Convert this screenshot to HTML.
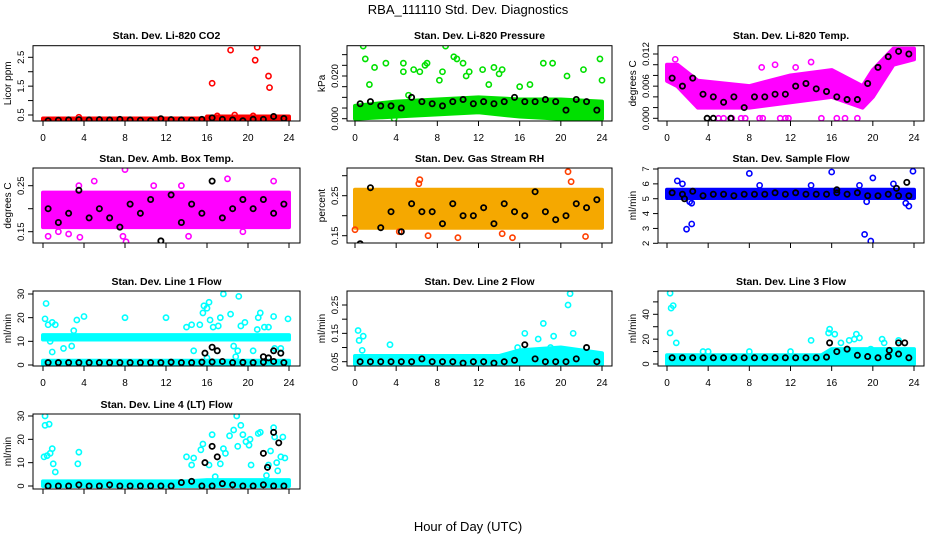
<!DOCTYPE html>
<html><head><meta charset="utf-8"><style>
html,body{margin:0;padding:0;background:#fff}
svg{display:block;font-family:"Liberation Sans",sans-serif}
</style></head><body>
<svg id="chart" width="936" height="540" viewBox="0 0 936 540">
<text x="468" y="14" text-anchor="middle" font-size="13">RBA_111110  Std. Dev. Diagnostics</text>
<text x="468" y="531" text-anchor="middle" font-size="13">Hour of Day (UTC)</text>
</svg>
<script>
// ---- shared data ----
const xTicks = [0,4,8,12,16,20,24];
const hourly = [0.5,1.5,2.5,3.5,4.5,5.5,6.5,7.5,8.5,9.5,10.5,11.5,12.5,13.5,14.5,15.5,16.5,17.5,18.5,19.5,20.5,21.5,22.5,23.5];

// CO2
const co2BandH = [0,16,16,24];
const co2BandLo = [0.29,0.29,0.29,0.29];
const co2BandHi = [0.38,0.38,0.45,0.45];
const co2Pts = [[16.5,1.6],[18.3,2.75],[20.7,2.4],[20.9,2.85],[22,1.85],[22.1,1.45],[18.7,0.5],[17,0.47],[20.5,0.47],[3.5,0.42]];
const co2Black = [0.3,0.32,0.33,0.34,0.33,0.34,0.33,0.35,0.33,0.32,0.3,0.37,0.34,0.33,0.32,0.35,0.4,0.35,0.33,0.3,0.35,0.35,0.45,0.38];

// Pressure
const prBandH = [0,4,8,12,16,20,24];
const prBandLo = [0,0.001,0.002,0.003,0.001,0,0];
const prBandHi = [0.006,0.008,0.009,0.010,0.009,0.009,0.008];
const prPts = [[0.8,0.034],[1,0.028],[1.4,0.016],[1.9,0.024],[3,0.026],[4.7,0.026],[4.7,0.022],[5.7,0.023],[6.3,0.022],[6.8,0.025],[7,0.026],[8.2,0.018],[8.5,0.022],[8.8,0.034],[9.6,0.029],[9.9,0.028],[10.5,0.026],[10.8,0.020],[11.1,0.022],[12.4,0.023],[13,0.016],[13.5,0.024],[14,0.021],[14.3,0.023],[16,0.015],[17,0.016],[18.3,0.026],[19.2,0.026],[20.6,0.020],[22.2,0.023],[23.8,0.028],[24,0.018],[5.2,0.011],[3.8,0]];
const prBlack = [0.007,0.008,0.006,0.006,0.005,0.010,0.008,0.007,0.006,0.008,0.009,0.007,0.008,0.007,0.008,0.010,0.008,0.008,0.009,0.008,0.004,0.009,0.008,0.004];

// Li-820 temp
const ltBandH = [0,1,3,8,12,16,19,20,22,24];
const ltBandLo = [0.007,0.006,0.002,0.002,0.003,0.004,0.002,0.004,0.010,0.011];
const ltBandHi = [0.010,0.010,0.007,0.006,0.008,0.009,0.006,0.009,0.013,0.013];
const ltPts = [[5,0],[5.5,0],[6.3,0],[7.2,0],[7.6,0],[9,0],[9.3,0],[11,0],[11.5,0],[11.8,0],[15,0],[16.5,0],[17.3,0],[18.5,0],[9.2,0.0095],[10.5,0.01],[14,0.0105],[12.5,0.0095],[0.8,0.011]];
const ltBlack = [0.0075,0.006,0.0075,0.0045,0.004,0.003,0.004,0.002,0.004,0.004,0.0045,0.0045,0.006,0.0065,0.0055,0.005,0.004,0.0035,0.0035,0.0065,0.0095,0.0115,0.0125,0.012];
const ltBlackExtra = [[3.9,0],[4.5,0],[6.2,0]];

// Amb box temp
const abBandH = [0,24];
const abBandLo = [0.16,0.16];
const abBandHi = [0.235,0.235];
const abPts = [[8,0.285],[8.1,0.128],[18,0.265],[22.5,0.26],[5,0.26],[0.5,0.14],[3.6,0.138],[7.8,0.14],[14.2,0.14],[19.5,0.15],[3.5,0.25],[13.5,0.25],[10.8,0.25],[2.5,0.145],[1.5,0.15]];
const abBlack = [0.20,0.17,0.19,0.24,0.18,0.20,0.18,0.16,0.21,0.19,0.22,0.13,0.23,0.17,0.21,0.19,0.26,0.18,0.20,0.22,0.20,0.22,0.19,0.21];

// RH
const rhBandH = [0,24];
const rhBandLo = [0.17,0.17];
const rhBandHi = [0.265,0.265];
const rhPts = [[20.7,0.31],[21,0.285],[6.2,0.28],[6.3,0.29],[0,0.165],[7.1,0.15],[10,0.145],[15.3,0.145],[22.4,0.148],[4.3,0.16],[14.3,0.155]];
const rhBlack = [0.13,0.27,0.17,0.21,0.16,0.23,0.21,0.21,0.18,0.23,0.20,0.20,0.22,0.18,0.23,0.21,0.20,0.26,0.21,0.19,0.20,0.23,0.22,0.24];

// Sample flow
const sfBandH = [0,24];
const sfBandLo = [5.05,5.05];
const sfBandHi = [5.6,5.6];
const sfPts = [[1,6.2],[1.5,6.0],[1.9,2.95],[2.4,3.3],[2.2,4.8],[2.4,4.7],[8,6.7],[16,6.8],[19.2,2.6],[19.8,2.15],[20,6.4],[23.9,6.85],[23.2,4.7],[23.5,4.5],[19.4,4.8],[9,5.9],[14,5.9],[18.7,5.9],[22,6.0]];
const sfBlack = [5.4,5.3,5.5,5.2,5.3,5.3,5.2,5.3,5.3,5.3,5.4,5.3,5.4,5.3,5.3,5.3,5.4,5.3,5.4,5.2,5.2,5.3,5.2,5.2];
const sfBlackExtra = [[23.3,6.1],[1.7,5.0],[16.5,5.6],[22.3,5.7]];

// Line 1
const l1BandH = [0,24];
const l1BandLo = [10.8,10.8];
const l1BandHi = [12.6,12.6];
const l1Pts = [[0.3,26],[0.2,19.5],[0.5,17],[0.9,18],[1.2,17],[0.7,10],[0.9,5.5],[2,7],[2.8,8],[3,14.5],[3.3,19],[4,20.5],[8,20],[12,20],[14,16],[14.5,17],[15.3,17],[15.6,22],[15.7,25],[16,24],[16.2,26.5],[16.3,19],[16.6,16],[17.1,16.5],[17.3,20],[17.6,30],[18.3,21.5],[18.6,8],[19,6],[19.1,29],[19.3,16.5],[19.7,18],[20.9,15],[21,20],[21.2,22],[21.6,16],[22,16],[22.5,20.5],[22.6,7],[23.2,7],[23.9,19.5],[20.5,6],[14.7,6],[16,3],[18.8,3.5]];
const l1Low = [[0,24],[0,0.3],[0,1.8],[24,1.8]];
const l1Black = [1,1,1,1,1,1,1,1,1,1,1,1,1.2,1,1,1.2,1.3,1.5,1,1.1,1,1.2,1.5,1];
const l1BlackExtra = [[15.8,5],[16.5,7.5],[17,6],[21.5,3.5],[22.5,6],[23.2,5],[22,3]];

// Line 2
const l2BandH = [0,4,14,16,20,22,24];
const l2BandLo = [0.04,0.04,0.04,0.04,0.04,0.04,0.04];
const l2BandHi = [0.07,0.07,0.07,0.09,0.10,0.09,0.08];
const l2Pts = [[0.3,0.16],[0.4,0.125],[0.8,0.14],[0.7,0.09],[3.4,0.11],[16.5,0.15],[17.8,0.13],[18.3,0.185],[19.3,0.14],[20.7,0.25],[20.9,0.29],[21.2,0.15],[19,0.1],[15.8,0.1]];
const l2Black = [0.05,0.05,0.05,0.05,0.05,0.05,0.06,0.05,0.05,0.05,0.045,0.05,0.05,0.045,0.05,0.055,0.11,0.06,0.05,0.05,0.05,0.06,0.1,0.05];

// Line 3
const l3BandH = [0,15,16,24];
const l3BandLo = [0,0,0,0];
const l3BandHi = [7,7,12,12];
const l3Pts = [[0.3,57],[0.4,45],[0.6,47],[0.3,25],[0.9,17],[3.5,10],[4,10],[8,10],[12,10],[14,19],[15.8,28],[15.7,25],[16.3,24],[16.9,17],[17.7,19],[18.2,20],[18.4,24],[18.7,21],[19.8,12],[20.9,20],[21.1,17],[22.5,19],[23.5,10]];
const l3Black = [5,5,5,5,5,5,5,5,5,5,5,5,5,5,5,5.5,10,12,7,6,5,6,8,5];
const l3BlackExtra = [[15.8,17],[21.6,11],[22.5,17],[23.1,17]];

// Line 4
const l4BandH = [0,14,16,24];
const l4BandLo = [0,0,0,0];
const l4BandHi = [2,2,2.5,2.5];
const l4Pts = [[0.2,30],[0.2,26],[0.6,26.5],[0.1,12.5],[0.4,13],[0.7,14],[0.9,16],[1,9.5],[1.2,6],[3.4,9.5],[3.5,14.5],[14,12.5],[14.5,9],[14.7,12],[15.4,15.5],[15.6,18],[16.2,9],[16.5,22],[16.8,4],[17.3,9.5],[17.6,16],[17.8,14],[18.2,21.5],[18.6,24],[18.9,30],[19,17],[19.3,26],[19.5,22],[19.8,19],[20.1,17.5],[20.3,9],[20.2,20],[21,22.5],[21.2,23],[21.8,4.5],[22,9],[22.2,15],[22.5,25],[22.6,21],[22.8,10],[22.9,6.5],[23.2,12.5],[23.4,21],[23.6,12]];
const l4Black = [0,0,0,0.5,0,0,0.5,0,0,0,0,0,0,1.5,2,0,0,1,0.5,0,0,0.5,0,0];
const l4BlackExtra = [[15.8,10],[16.5,17],[17,12.5],[21.5,14],[22.5,23],[21.9,8],[23,18.5]];

// ---- rendering ----
const NS = "http://www.w3.org/2000/svg";
const svg = document.getElementById('chart');
function mk(tag, attrs, parent){ const e=document.createElementNS(NS,tag); for(const k in attrs) e.setAttribute(k,attrs[k]); (parent||svg).appendChild(e); return e; }

const cols = [[33,300,43,289],[347,612,355,602],[658,924,667,914]];
const rows = [[45.7,121,35],[168,243,158],[291,366,281],[414,489,404]];

function panel(o){
  const [bl,br,x0,x24] = cols[o.c];
  const [bt,bb,ty] = rows[o.r];
  const g = mk('g',{});
  
  
  const sx = h => x0 + (x24-x0)*h/24;
  const sy = v => o.py0 + (v-o.v0)*(o.py1-o.py0)/(o.v1-o.v0);
  const clip = 'clip'+o.name;
  const cp = mk('clipPath',{id:clip},g); mk('rect',{x:bl,y:bt,width:br-bl,height:bb-bt},cp);
  const pg = mk('g',{'clip-path':'url(#'+clip+')'},g);
  const t = mk('text',{x:(bl+br)/2,y:ty+4,'text-anchor':'middle','font-size':'10.5','font-weight':'bold'},g);
  t.textContent = o.title;
  
  
  const bandCol = o.fill||o.col;
  function band(H,Lo,Hi){
    let pts=[]; H.forEach((h,i)=>pts.push(sx(h)+','+sy(Hi[i])));
    for(let i=H.length-1;i>=0;i--) pts.push(sx(H[i])+','+sy(Lo[i]));
    const p = mk('polygon',{points:pts.join(' '),fill:bandCol,stroke:bandCol,'stroke-width':4,'stroke-linejoin':'round'},pg);
    
    
  }
  band(o.bH,o.bLo,o.bHi);
  if(o.low){ const L=o.low; band([L[0][0],L[0][1]],[L[1][1],L[1][1]],[L[2][1],L[2][1]]); }
  function dot(h,v,color,w,nm){
    const c = mk('circle',{cx:sx(h),cy:sy(v),r:2.6,fill:'none',stroke:color,'stroke-width':w},pg);
    
    
  }
  o.pts.forEach(p=>dot(p[0],p[1],o.col,1.6,'point'));
  o.black.forEach((v,i)=>dot(hourly[i],v,'#000',1.8,'mean-point'));
  (o.bx||[]).forEach(p=>dot(p[0],p[1],'#000',1.8,'mean-point'));
  const b = mk('rect',{x:bl,y:bt,width:br-bl,height:bb-bt,fill:'none',stroke:'#000','stroke-width':1},g);
  
  
  mk('line',{x1:sx(0),x2:sx(24),y1:bb,y2:bb,stroke:'#000'},g);
  xTicks.forEach(h=>{
    mk('line',{x1:sx(h),x2:sx(h),y1:bb,y2:bb+5,stroke:'#000'},g);
    if(o.xl){
      const tl = mk('text',{x:sx(h),y:bb+20,'text-anchor':'middle','font-size':'10'},g);
      tl.textContent = h;
      
      
    }
  });
  o.yt.forEach(v=>{
    if(sy(v) >= bt-1) mk('line',{x1:bl,x2:bl-5,y1:sy(v),y2:sy(v),stroke:'#000'},g);
  });
  o.yl.forEach(s=>{
    const y = sy(parseFloat(s));
    const tl = mk('text',{x:bl-9,y:y,'text-anchor':'middle','font-size':'9.5',transform:'rotate(-90 '+(bl-9)+' '+y+')'},g);
    tl.textContent = s;
    
    
  });
  const yt = mk('text',{x:bl-22,y:(bt+bb)/2,'text-anchor':'middle','font-size':'10',transform:'rotate(-90 '+(bl-22)+' '+((bt+bb)/2)+')'},g);
  yt.textContent = o.ylab;
  
  
}
function rng(a,b,s){const r=[];for(let v=a;v<=b+1e-9;v+=s)r.push(+v.toFixed(4));return r;}

panel({name:'panel-co2',c:0,r:0,title:'Stan. Dev. Li-820 CO2',ylab:'Licor ppm',col:'#ff0000',v0:0.5,v1:2.5,py0:115,py1:57.3,yt:rng(0.5,2.5,0.5),yl:['0.5','1.5','2.5'],bH:co2BandH,bLo:co2BandLo,bHi:co2BandHi,pts:co2Pts,black:co2Black,xl:true});
panel({name:'panel-pressure',c:1,r:0,title:'Stan. Dev. Li-820 Pressure',ylab:'kPa',col:'#00e000',v0:0,v1:0.02,py0:118.7,py1:76,yt:rng(0,0.03,0.005),yl:['0.000','0.020'],bH:prBandH,bLo:prBandLo,bHi:prBandHi,pts:prPts,black:prBlack,xl:true});
panel({name:'panel-li820-temp',c:2,r:0,title:'Stan. Dev. Li-820 Temp.',ylab:'degrees C',col:'#ff00ff',v0:0,v1:0.012,py0:118.3,py1:54,yt:rng(0,0.012,0.002),yl:['0.000','0.006','0.012'],bH:ltBandH,bLo:ltBandLo,bHi:ltBandHi,pts:ltPts,black:ltBlack,bx:ltBlackExtra,xl:true});
panel({name:'panel-amb-box-temp',c:0,r:1,title:'Stan. Dev. Amb. Box Temp.',ylab:'degrees C',col:'#ff00ff',v0:0.15,v1:0.25,py0:231.7,py1:185.7,yt:[0.15,0.2,0.25],yl:['0.15','0.25'],bH:abBandH,bLo:abBandLo,bHi:abBandHi,pts:abPts,black:abBlack,xl:false});
panel({name:'panel-gas-rh',c:1,r:1,title:'Stan. Dev. Gas Stream RH',ylab:'percent',col:'#ff4000',fill:'#f5a800',v0:0.15,v1:0.25,py0:235.7,py1:195.7,yt:[0.15,0.2,0.25,0.3],yl:['0.15','0.25'],bH:rhBandH,bLo:rhBandLo,bHi:rhBandHi,pts:rhPts,black:rhBlack,xl:false});
panel({name:'panel-sample-flow',c:2,r:1,title:'Stan. Dev. Sample Flow',ylab:'ml/min',col:'#0000ff',v0:2,v1:7,py0:243.3,py1:169,yt:[2,3,4,5,6,7],yl:['2','3','4','5','6','7'],bH:sfBandH,bLo:sfBandLo,bHi:sfBandHi,pts:sfPts,black:sfBlack,bx:sfBlackExtra,xl:false});
panel({name:'panel-line1',c:0,r:2,title:'Stan. Dev. Line 1 Flow',ylab:'ml/min',col:'#00ffff',v0:0,v1:30,py0:365,py1:294,yt:[0,10,20,30],yl:['0','10','20','30'],bH:l1BandH,bLo:l1BandLo,bHi:l1BandHi,low:l1Low,pts:l1Pts,black:l1Black,bx:l1BlackExtra,xl:true});
panel({name:'panel-line2',c:1,r:2,title:'Stan. Dev. Line 2 Flow',ylab:'ml/min',col:'#00ffff',v0:0.05,v1:0.25,py0:361.7,py1:305,yt:[0.05,0.1,0.15,0.2,0.25],yl:['0.05','0.15','0.25'],bH:l2BandH,bLo:l2BandLo,bHi:l2BandHi,pts:l2Pts,black:l2Black,xl:true});
panel({name:'panel-line3',c:2,r:2,title:'Stan. Dev. Line 3 Flow',ylab:'ml/min',col:'#00ffff',v0:0,v1:40,py0:364,py1:314.3,yt:[0,10,20,30,40,50],yl:['0','20','40'],bH:l3BandH,bLo:l3BandLo,bHi:l3BandHi,pts:l3Pts,black:l3Black,bx:l3BlackExtra,xl:true});
panel({name:'panel-line4',c:0,r:3,title:'Stan. Dev. Line 4 (LT) Flow',ylab:'ml/min',col:'#00ffff',v0:0,v1:30,py0:486,py1:416,yt:[0,10,20,30],yl:['0','10','20','30'],bH:l4BandH,bLo:l4BandLo,bHi:l4BandHi,pts:l4Pts,black:l4Black,bx:l4BlackExtra,xl:false});
</script>
</body></html>
